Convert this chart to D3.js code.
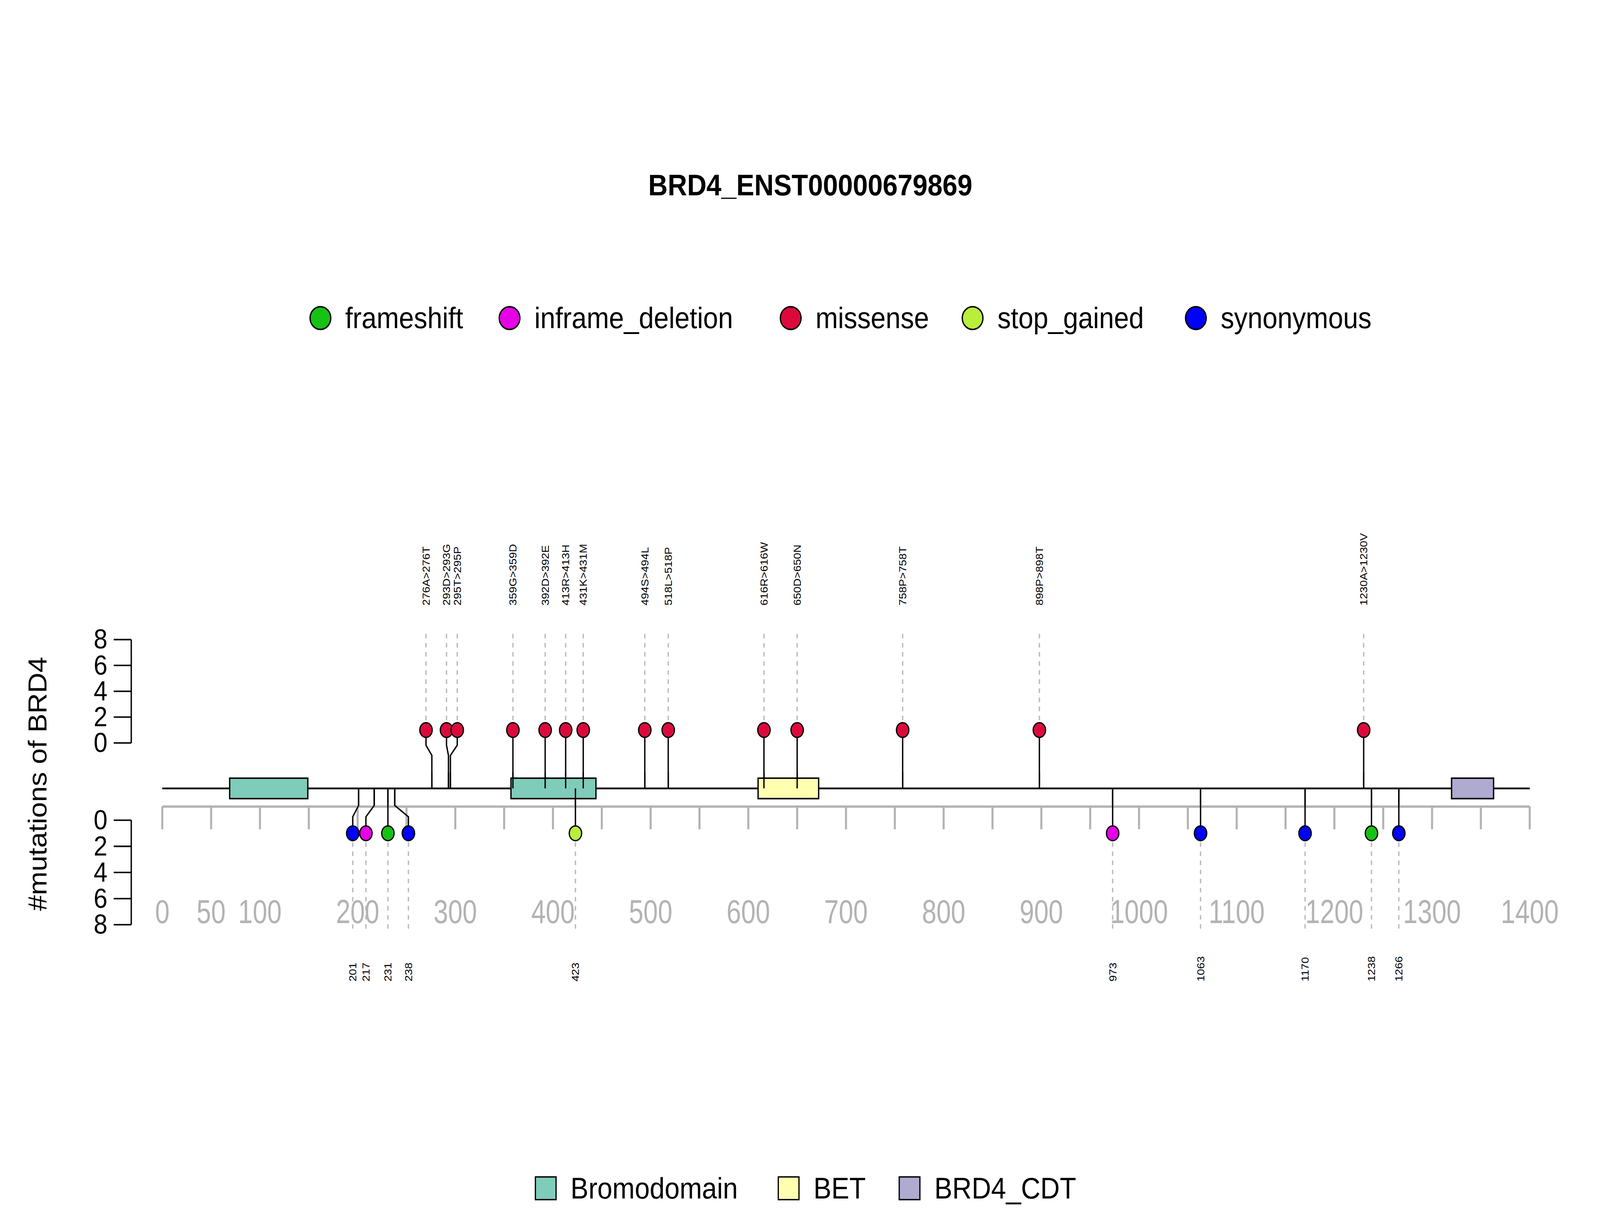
<!DOCTYPE html>
<html><head><meta charset="utf-8">
<script src="https://cdn.jsdelivr.net/npm/d3@7"></script>
<style>html,body{margin:0;padding:0;background:#fff;overflow:hidden;width:100vw;height:100vh}
#chart{width:100vw;height:100vh}svg{display:block}</style>
</head><body>
<div id="chart"></div>
<script>
// data
var topPos = [276, 293, 295, 359, 392, 413, 431, 494, 518, 616, 650, 758, 898, 1230]
var topBubble = [270, 291, 302, 359, 392, 413, 431, 494, 518, 616, 650, 758, 898, 1230]
var topLabels = ['276A>276T','293D>293G','295T>295P','359G>359D','392D>392E','413R>413H','431K>431M',
	'494S>494L','518L>518P','616R>616W','650D>650N','758P>758T','898P>898T','1230A>1230V']
var topCount = [1,1,1,1,1,1,1,1,1,1,1,1,1,1]
var topType = ['missense','missense','missense','missense','missense','missense','missense',
	'missense','missense','missense','missense','missense','missense','missense']

var botPos = [201, 217, 231, 238, 423, 973, 1063, 1170, 1238, 1266]
var botBubble = [195, 208.5, 231, 252, 423, 973, 1063, 1170, 1238, 1266]
var botLabels = ['201','217','231','238','423','973','1063','1170','1238','1266']
var botCount = [1,1,1,1,1,1,1,1,1,1]
var botType = ['synonymous','inframe_deletion','frameshift','synonymous','stop_gained',
	'inframe_deletion','synonymous','synonymous','frameshift','synonymous']

var domNames = ['Bromodomain','Bromodomain','BET','BRD4_CDT']
var domStart = [69, 357, 610, 1320]
var domEnd = [149, 444, 672, 1363]

var mutTypes = ['frameshift','inframe_deletion','missense','stop_gained','synonymous']
var mutColors = ['#16c216','#e600e6','#dc0a3c','#b9ee3a','#0000ff']
var domTypes = ['Bromodomain','BET','BRD4_CDT']
var domColors = ['#7fccba','#ffffb0','#afaad0']

var xTicks = d3.range(0, 1401, 50)
var xLabels = [0,50,100,200,300,400,500,600,700,800,900,1000,1100,1200,1300,1400]
var yTicks = [0,2,4,6,8]

var W = 1548, H = 1066
var svg = d3.select('#chart').append('svg')
	.attr('width', '100%').attr('height', '100%')
	.attr('viewBox', '0 0 ' + W + ' ' + H)
	.attr('preserveAspectRatio', 'none')
	.style('font-family', 'Liberation Sans, Arial, sans-serif')

var x = d3.scaleLinear().domain([0, 1400]).range([157, 1480])
var yTop = d3.scaleLinear().domain([0, 8]).range([654, 563])
var yBot = d3.scaleLinear().domain([0, 8]).range([722, 814])
var mcol = d3.scaleOrdinal().domain(mutTypes).range(mutColors)
var dcol = d3.scaleOrdinal().domain(domTypes).range(domColors)
var lineY = 694

svg.append('text').attr('x', 784).attr('y', 172).attr('text-anchor', 'middle')
	.style('font-weight', 'bold').style('font-size', '26px').text('BRD4_ENST00000679869')

// legend top
var legX = [310, 493, 765, 941, 1157]
mutTypes.forEach(function(t, i){
	svg.append('circle').attr('cx', legX[i]).attr('cy', 280).attr('r', 10)
		.attr('fill', mutColors[i]).attr('stroke', '#000').attr('stroke-width', 1.3)
	svg.append('text').attr('x', legX[i] + 24).attr('y', 289).style('font-size', '26px').text(t)
})

// y axes
function yAxis(sc){
	var g = svg.append('g')
	g.append('line').attr('x1', 127).attr('x2', 127).attr('y1', sc(0)).attr('y2', sc(8))
		.attr('stroke', '#000').attr('stroke-width', 1.3)
	yTicks.forEach(function(v){
		g.append('line').attr('x1', 110).attr('x2', 127).attr('y1', sc(v)).attr('y2', sc(v))
			.attr('stroke', '#000').attr('stroke-width', 1.3)
		g.append('text').attr('x', 104).attr('y', sc(v) + 8).attr('text-anchor', 'end')
			.style('font-size', '24px').text(v)
	})
}
yAxis(yTop)
yAxis(yBot)
svg.append('text').attr('transform', 'translate(45,690)rotate(-90)').attr('text-anchor', 'middle')
	.style('font-size', '25px').text('#mutations of BRD4')

// x axis
svg.append('line').attr('x1', x(0)).attr('x2', x(1400)).attr('y1', 710).attr('y2', 710)
	.attr('stroke', '#b3b3b3').attr('stroke-width', 2)
xTicks.forEach(function(v){
	svg.append('line').attr('x1', x(v)).attr('x2', x(v)).attr('y1', 710).attr('y2', 730)
		.attr('stroke', '#b3b3b3').attr('stroke-width', 2)
})
xLabels.forEach(function(v){
	svg.append('text').attr('x', x(v)).attr('y', 774).attr('text-anchor', 'middle')
		.attr('fill', '#b3b3b3').style('font-size', '28px')
		.attr('transform', 'translate(' + x(v) + ',0)scale(0.9,1.05)translate(' + (-x(v)) + ',0)')
		.text(v)
})

// dashed guides and labels
topBubble.forEach(function(b, i){
	svg.append('line').attr('x1', x(b)).attr('x2', x(b)).attr('y1', 558).attr('y2', yTop(topCount[i]))
		.attr('stroke', '#bbb').attr('stroke-width', 1.3).attr('stroke-dasharray', '4,4')
	svg.append('text').attr('transform', 'translate(' + (x(b) + 3.5) + ',533)rotate(-90)')
		.style('font-size', '10px').text(topLabels[i])
})
botBubble.forEach(function(b, i){
	svg.append('line').attr('x1', x(b)).attr('x2', x(b)).attr('y1', yBot(botCount[i])).attr('y2', 820)
		.attr('stroke', '#bbb').attr('stroke-width', 1.3).attr('stroke-dasharray', '4,4')
	svg.append('text').attr('transform', 'translate(' + (x(b) + 3.5) + ',864)rotate(-90)')
		.style('font-size', '10px').text(botLabels[i])
})

// protein line
svg.append('line').attr('x1', x(0)).attr('x2', x(1400)).attr('y1', lineY).attr('y2', lineY)
	.attr('stroke', '#000').attr('stroke-width', 1.5)

// stems
var stem = d3.line()
topPos.forEach(function(p, i){
	svg.append('path').attr('d', stem([[x(p), lineY], [x(p), 665], [x(topBubble[i]), 656], [x(topBubble[i]), yTop(topCount[i])]]))
		.attr('fill', 'none').attr('stroke', '#000').attr('stroke-width', 1.3)
})
botPos.forEach(function(p, i){
	svg.append('path').attr('d', stem([[x(p), lineY], [x(p), 709], [x(botBubble[i]), 719], [x(botBubble[i]), yBot(botCount[i])]]))
		.attr('fill', 'none').attr('stroke', '#000').attr('stroke-width', 1.3)
})

// domains
domNames.forEach(function(n, i){
	svg.append('rect').attr('x', x(domStart[i])).attr('y', 685)
		.attr('width', x(domEnd[i]) - x(domStart[i])).attr('height', 18)
		.attr('fill', dcol(n)).attr('stroke', '#000').attr('stroke-width', 1.3)
})
// stem bases drawn over domain boxes
topPos.forEach(function(p){
	svg.append('line').attr('x1', x(p)).attr('x2', x(p)).attr('y1', lineY).attr('y2', 680)
		.attr('stroke', '#000').attr('stroke-width', 1.3)
})
botPos.forEach(function(p){
	svg.append('line').attr('x1', x(p)).attr('x2', x(p)).attr('y1', lineY).attr('y2', 709)
		.attr('stroke', '#000').attr('stroke-width', 1.3)
})

// bubbles
topBubble.forEach(function(b, i){
	svg.append('ellipse').attr('cx', x(b)).attr('cy', yTop(topCount[i])).attr('rx', 6).attr('ry', 6.5)
		.attr('fill', mcol(topType[i])).attr('stroke', '#000').attr('stroke-width', 1.2)
})
botBubble.forEach(function(b, i){
	svg.append('ellipse').attr('cx', x(b)).attr('cy', yBot(botCount[i])).attr('rx', 6).attr('ry', 6.5)
		.attr('fill', mcol(botType[i])).attr('stroke', '#000').attr('stroke-width', 1.2)
})

// domain legend
var dLegX = [518, 753, 870]
domTypes.forEach(function(t, i){
	svg.append('rect').attr('x', dLegX[i]).attr('y', 1036).attr('width', 20).attr('height', 20)
		.attr('fill', domColors[i]).attr('stroke', '#000').attr('stroke-width', 1.2)
	svg.append('text').attr('x', dLegX[i] + 34).attr('y', 1055).style('font-size', '26px').text(t)
})
</script>
</body></html>
